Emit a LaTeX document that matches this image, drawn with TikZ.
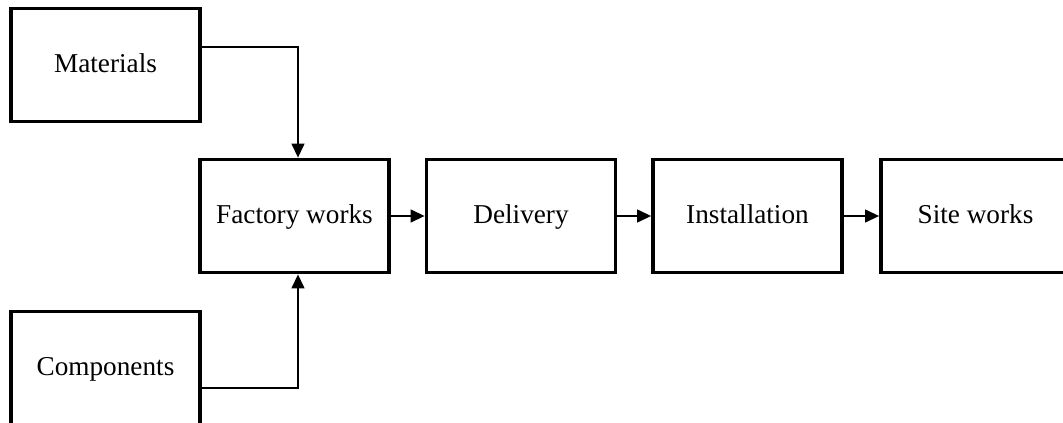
\documentclass[tikz,border=0pt]{standalone}
\usepackage{fontspec}
\setmainfont{Liberation Serif}
\usepackage{tikz}
\usetikzlibrary{arrows.meta}

\begin{document}
\begin{tikzpicture}
[x=0.02cm,y=-0.02cm,
stage/.style={rectangle,minimum width=3.78cm,minimum height=2.26cm,align=center,draw=black,line width=2.2pt,
  text height=2.2ex,text depth=0.3ex,font=\fontsize{15.5}{18}\selectfont},
flow/.style={-{Triangle[length=2.8mm,width=2.6mm]},line width=0.75pt},
]
\path[use as bounding box,clip] (0,0) rectangle (1063,423);

\node [stage] (mat) at (105.5,65){Materials};
\node [stage] (comp) at (105.5,368){Components};
\node [stage] (fac) at (294.5,216){Factory works};
\node [stage] (del) at (521,216){Delivery};
\node [stage] (inst) at (747.5,216){Installation};
\node [stage] (site) at (975.5,216){Site works};

\draw[flow] ([yshift=0.36cm]mat.east) -| ([xshift=0.07cm]fac.north);
\draw[flow] ([yshift=-0.4cm]comp.east) -| ([xshift=0.07cm]fac.south);
\draw[flow] (fac) -- (del);
\draw[flow] (del) -- (inst);
\draw[flow] (inst) -- (site);
\end{tikzpicture}
\end{document}
